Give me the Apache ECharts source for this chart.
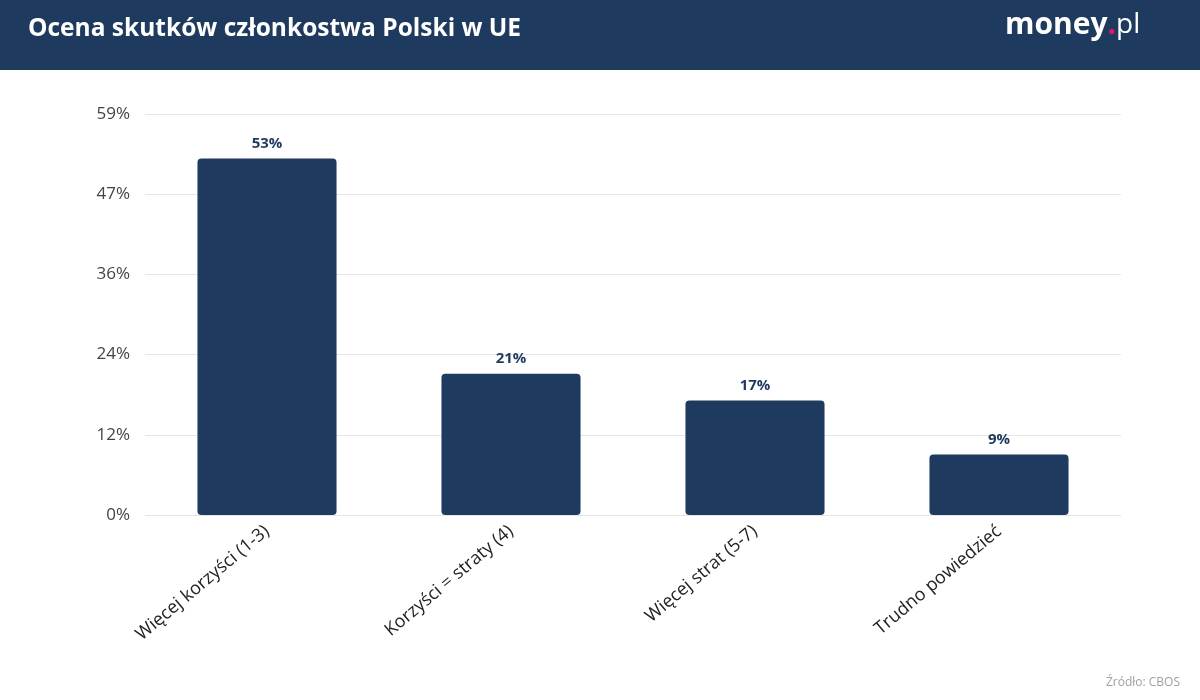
<!DOCTYPE html>
<html>
<head>
<meta charset="utf-8">
<script src="https://cdn.jsdelivr.net/npm/echarts@6/dist/echarts.min.js"></script>
<style>
  html, body { margin: 0; padding: 0; background: #fff; }
  #chart { width: 1200px; height: 700px; }
</style>
</head>
<body>
<div id="chart"></div>
<script>
const categories = ["Więcej korzyści (1-3)", "Korzyści = straty (4)", "Więcej strat (5-7)", "Trudno powiedzieć"];
const values = [53, 21, 17, 9];
const tickLabels = ["0%", "12%", "24%", "36%", "47%", "59%"];
const axisMax = 59.6;

const navy = "#1f3a5f";
const font = "'Open Sans', 'Noto Sans', sans-serif";
const step = axisMax / 5;

const chart = echarts.init(document.getElementById("chart"));
chart.setOption({
  backgroundColor: "#fff",
  animation: false,
  textStyle: { fontFamily: font },
  graphic: [
    { type: "rect", left: 0, top: 0, shape: { width: 1200, height: 70 }, style: { fill: navy }, z: 0 },
    {
      type: "text", left: 28, top: 17,
      style: { text: "Ocena skutków członkostwa Polski w UE", fill: "#fff", font: "bold 24.5px " + font },
    },
    {
      type: "text", left: 1005, top: 10,
      style: {
        text: "{a|money}{b|.}{c|pl}",
        rich: {
          a: { fill: "#fff", fontSize: 30, fontWeight: "bold", fontFamily: font },
          b: { fill: "#e8175d", fontSize: 30, fontWeight: "bold", fontFamily: font },
          c: { fill: "#fff", fontSize: 28, fontFamily: font },
        },
      },
    },
    {
      type: "text", right: 20, top: 677,
      style: { text: "Źródło: CBOS", fill: "#a0a0a0", font: "12px " + font },
    },
  ],
  grid: { left: 145, right: 79, top: 114, bottom: 185 },
  xAxis: {
    type: "category",
    data: categories,
    axisLine: { show: false },
    axisTick: { show: false },
    axisLabel: { rotate: 40, margin: 14, fontSize: 18, color: "#222", fontFamily: font },
  },
  yAxis: {
    type: "value",
    min: 0,
    max: axisMax,
    interval: step,
    axisLine: { show: false },
    axisTick: { show: false },
    splitLine: { lineStyle: { color: "#e6e6e6", width: 1 } },
    axisLabel: {
      margin: 15,
      fontSize: 17,
      color: "#444",
      fontFamily: font,
      formatter: (v) => tickLabels[Math.round(v / step)],
    },
  },
  series: [
    {
      type: "bar",
      data: values,
      barWidth: "57%",
      itemStyle: { color: navy, borderRadius: [4, 4, 4, 4] },
      label: {
        show: true,
        position: "top",
        distance: 7,
        formatter: "{c}%",
        color: navy,
        fontSize: 15,
        fontWeight: "bold",
        fontFamily: font,
      },
    },
  ],
});
</script>
</body>
</html>
